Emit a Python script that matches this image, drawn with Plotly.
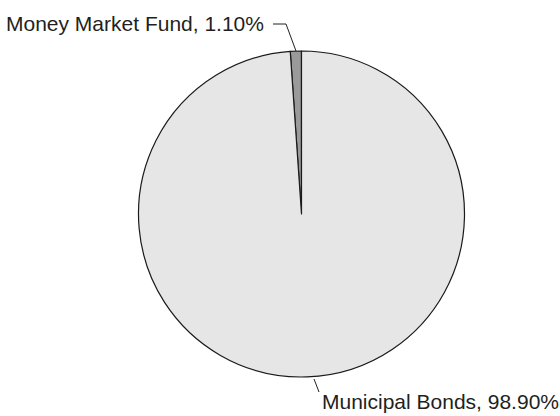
import plotly.graph_objects as go

labels = ["Money Market Fund", "Municipal Bonds"]
values = [1.10, 98.90]
colors = ["#9a9a9a", "#e6e6e6"]

W, H = 560, 416

def px(x):
    return x / W

def py(y):
    return 1 - y / H

fig = go.Figure()
fig.add_trace(go.Pie(
    labels=labels, values=values, sort=False, direction="clockwise",
    rotation=-3.96, textinfo="none", hoverinfo="label+percent",
    marker=dict(colors=colors, line=dict(color="#1a1a1a", width=1.2)),
    domain=dict(x=[43 / W, 1], y=[(H - 377) / H, (H - 51) / H]),
    showlegend=False,
))

font = dict(family="Liberation Sans, Arial, sans-serif", size=21, color="#231f20")

fig.add_annotation(x=px(266), y=py(23), xref="paper", yref="paper",
                   text=f"{labels[0]}, {values[0]:.2f}%", showarrow=False,
                   xanchor="right", yanchor="middle", font=font)
fig.add_annotation(x=px(320), y=py(401), xref="paper", yref="paper",
                   text=f"{labels[1]}, {values[1]:.2f}%", showarrow=False,
                   xanchor="left", yanchor="middle", font=font)

line = dict(color="#231f20", width=1)
fig.add_shape(type="line", xref="paper", yref="paper",
              x0=px(273), y0=py(24), x1=px(286), y1=py(24), line=line)
fig.add_shape(type="line", xref="paper", yref="paper",
              x0=px(286), y0=py(24), x1=px(296), y1=py(51), line=line)
fig.add_shape(type="line", xref="paper", yref="paper",
              x0=px(314), y0=py(379), x1=px(319), y1=py(392), line=line)

fig.update_layout(width=W, height=H, margin=dict(l=0, r=0, t=0, b=0),
                  paper_bgcolor="white", plot_bgcolor="white")
fig.write_html("out.html")
